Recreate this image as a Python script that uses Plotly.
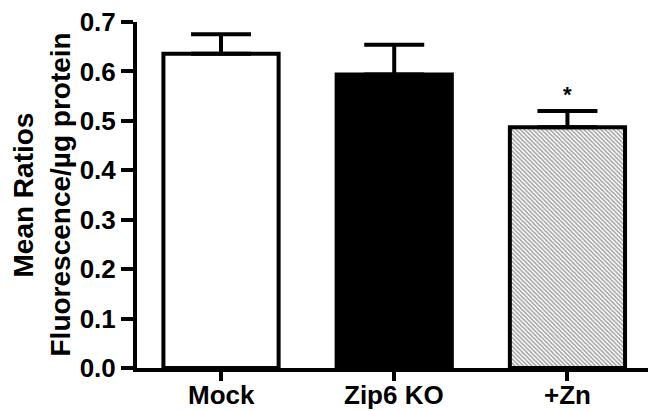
import plotly.graph_objects as go

categories = ["Mock", "Zip6 KO", "+Zn"]
means = [0.636, 0.594, 0.487]
sem = [0.039, 0.060, 0.033]
fill_colors = ["white", "black", "white"]
pattern_shapes = ["", "", "\\"]
y_ticks = [0.0, 0.1, 0.2, 0.3, 0.4, 0.5, 0.6, 0.7]
significance = ["", "", "*"]
y_title_lines = ["Mean Ratios", "Fluorescence/µg protein"]

FONT = "Liberation Sans"
L, R, T, B = 137, 0, 22, 43
PW = 648 - L - R

fig = go.Figure()
fig.add_trace(go.Bar(
    x=categories,
    y=means,
    width=0.665,
    marker=dict(
        color=fill_colors,
        line=dict(color="black", width=4),
        pattern=dict(shape=pattern_shapes, size=3, solidity=0.5,
                     fgcolor="#111111", bgcolor="#c8c8c8", fillmode="overlay"),
    ),
    error_y=dict(type="data", symmetric=False, array=sem,
                 arrayminus=[0] * len(sem), color="black",
                 thickness=4, width=30),
    cliponaxis=False,
    showlegend=False,
))

for c, m, s, sig in zip(categories, means, sem, significance):
    if sig:
        fig.add_annotation(x=c, y=m + s, text=sig, showarrow=False,
                           yshift=16, font=dict(family=FONT, size=22, color="black", weight="bold"))

# x category labels as annotations for precise placement
for c in categories:
    fig.add_annotation(x=c, y=0, yref="paper", text=c, showarrow=False,
                       yanchor="top", yshift=-11, borderpad=0,
                       font=dict(family=FONT, size=26, color="black", weight="bold"))

for px_x, txt in zip([22.5, 59.5], y_title_lines):
    fig.add_annotation(xref="paper", yref="paper", x=(px_x - L) / PW, y=0.5,
                       text=txt, textangle=-90, showarrow=False,
                       xanchor="center", yanchor="middle",
                       font=dict(family=FONT, size=28, color="black", weight="bold"))

fig.update_layout(
    width=648, height=411,
    margin=dict(l=L, r=R, t=T, b=B),
    plot_bgcolor="white", paper_bgcolor="white",
    font=dict(family=FONT, color="black", weight="bold"),
)
fig.update_xaxes(
    range=[-0.485, 2.465],
    showline=True, linecolor="black", linewidth=4,
    ticks="outside", ticklen=9, tickwidth=4, tickcolor="black",
    showticklabels=False,
    showgrid=False, zeroline=False,
)
fig.update_yaxes(
    range=[0, 0.7],
    tickvals=y_ticks, tickformat=".1f",
    showline=True, linecolor="black", linewidth=4,
    ticks="outside", ticklen=12, tickwidth=4, tickcolor="black",
    tickfont=dict(family=FONT, size=26, color="black", weight="bold"),
    showgrid=False, zeroline=False,
)

fig.write_html("out.html", config={"displayModeBar": False},
               post_script="document.body.style.margin='0';")
